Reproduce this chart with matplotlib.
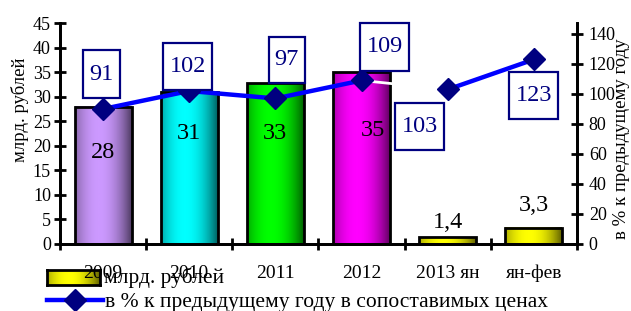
import numpy as np
import matplotlib
matplotlib.use("Agg")
import matplotlib.pyplot as plt
from matplotlib.colors import LinearSegmentedColormap, to_rgb
from matplotlib.patches import Rectangle
from matplotlib.lines import Line2D
from matplotlib.transforms import ScaledTranslation

plt.rcParams["font.family"] = ["Liberation Serif", "DejaVu Serif"]

categories = ["2009", "2010", "2011", "2012", "2013 ян", "ян-фев"]
volume = [27.9, 31.0, 32.7, 35.0, 1.4, 3.3]
volume_labels = ["28", "31", "33", "35", "1,4", "3,3"]
pct = [90, 102, 97, 109, 103, 123]
pct_labels = ["91", "102", "97", "109", "103", "123"]
bar_colors = ["#CC99FF", "#00FFFF", "#00FF00", "#FF00FF", "#FFFF00", "#FFFF00"]

navy = "#000080"
DPI = 100

fig = plt.figure(figsize=(6.31, 3.11), dpi=DPI)
ax = fig.add_axes([60 / 631, 1 - 244 / 311, 517 / 631, 221 / 311])
ax2 = ax.twinx()

x = np.arange(len(categories))
width = 0.66

t = np.linspace(0, 1, 200)
profile = np.clip(1 - ((t - 0.42) / 0.58) ** 2, 0, 1)


def shade(c):
    return LinearSegmentedColormap.from_list("g", [np.array(to_rgb(c)) * 0.38, c])


for i, (v, c) in enumerate(zip(volume, bar_colors)):
    x0 = x[i] - width / 2
    ax.imshow(profile[np.newaxis, :], cmap=shade(c),
              extent=[x0, x0 + width, 0, v], aspect="auto", zorder=2, vmin=0, vmax=1)
    ax.add_patch(Rectangle((x0, 0), width, v, fill=False, edgecolor="black",
                           linewidth=2, zorder=3))

# value labels for bars
lab_y = [18.7, 22.6, 22.6, 23.2, 4.3, 7.9]
lab_dx = [0, 0, 0, 0.13, 0, 0]
for i, s in enumerate(volume_labels):
    ax.text(x[i] + lab_dx[i], lab_y[i], s, ha="center", va="center",
            fontsize=17.5, color="black", zorder=4)

ax.set_xlim(-0.5, len(categories) - 0.5)
ax.set_ylim(0, 45)
ax.set_yticks(np.arange(0, 46, 5))
ax2.set_ylim(0, 147.3)
ax2.set_yticks(np.arange(0, 141, 20))

# percentage line (segment 2012 -> 2013 drawn in white)
ax2.plot(x[:4], pct[:4], color="#0000FF", lw=3.2, zorder=5)
ax2.plot(x[3:5], pct[3:5], color="white", lw=2, zorder=5)
ax2.plot(x[4:], pct[4:], color="#0000FF", lw=3.2, zorder=5)
ax2.plot(x, pct, linestyle="none", marker="D", markersize=11,
         color=navy, zorder=6)

# label boxes: offset of centre and size, in pixels
box_off = [(-1.5, 34.5), (-1.5, 24.5), (11.5, 38.5), (23, 33.5), (-28, -37), (0, -36)]
box_size = [(37, 48), (49, 47), (36, 46), (49, 48), (49, 47), (49, 47)]
for i, s in enumerate(pct_labels):
    dx, dy = box_off[i]
    w, h = box_size[i]
    tr = fig.dpi_scale_trans + ScaledTranslation(x[i], pct[i], ax2.transData)
    ax2.add_patch(Rectangle(((dx - w / 2) / DPI, (dy - h / 2) / DPI), w / DPI, h / DPI,
                            transform=tr, facecolor="white", edgecolor=navy,
                            linewidth=1.6, zorder=7, clip_on=False))
    ax2.text(dx / DPI, dy / DPI, s, transform=tr, ha="center", va="center",
             fontsize=17.5, color=navy, zorder=8)

ax.set_zorder(1)
ax2.set_zorder(2)
ax2.patch.set_visible(False)

for a in (ax, ax2):
    a.spines["top"].set_visible(False)
    for s in ("left", "right", "bottom"):
        a.spines[s].set_linewidth(2)

ax.set_xticks(np.arange(-0.5, len(categories) + 0.5, 1))
ax.set_xticklabels([])
ax.set_xticks(x, minor=True)
ax.set_xticklabels(categories, minor=True, fontsize=14)
ax.tick_params(axis="x", which="major", direction="inout", length=9, width=2)
ax.tick_params(axis="x", which="minor", length=0, pad=15)
ax.tick_params(axis="y", direction="inout", length=9, width=2, labelsize=13, pad=2)
ax2.tick_params(axis="y", direction="inout", length=9, width=2, labelsize=13, pad=4)

fig.text(20 / 631, 1 - 110 / 311, "млрд. рублей", rotation=90, ha="center",
         va="center", fontsize=13.5)
fig.text(622 / 631, 1 - 139 / 311, "в % к предыдущему году", rotation=90,
         ha="center", va="center", fontsize=13.5)

# legend drawn by hand
lax = fig.add_axes([47 / 631, 1 - 285 / 311, 53 / 631, 15 / 311])
lax.imshow(profile[np.newaxis, :], cmap=shade("#FFFF00"), aspect="auto",
           extent=[0, 1, 0, 1], vmin=0, vmax=1)
lax.set_xticks([])
lax.set_yticks([])
for s in lax.spines.values():
    s.set_linewidth(2)
fig.text(104 / 631, 1 - 278 / 311, "млрд. рублей", ha="left", va="center",
         fontsize=15.5)
fig.add_artist(Line2D([47 / 631, 103 / 631], [1 - 300 / 311] * 2,
                      color="#0000FF", lw=3.2, transform=fig.transFigure))
fig.add_artist(Line2D([75 / 631], [1 - 300 / 311], marker="D", markersize=11,
                      color=navy, transform=fig.transFigure))
fig.text(105 / 631, 1 - 303 / 311, "в % к предыдущему году в сопоставимых ценах",
         ha="left", va="center", fontsize=15.5)

fig.savefig("out.png", dpi=DPI)
